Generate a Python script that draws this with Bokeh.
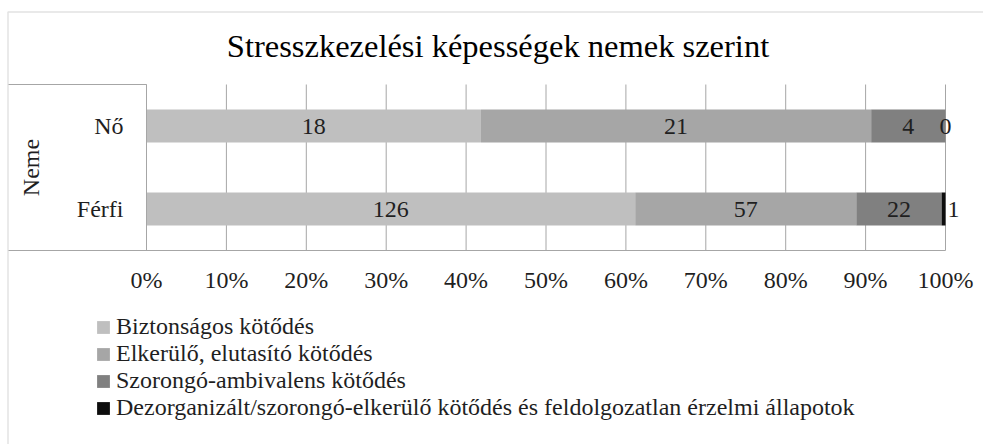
from bokeh.plotting import figure
from bokeh.models import (ColumnDataSource, FixedTicker, Legend, LegendItem, Range1d,
                          BoxAnnotation, LabelSet, Label, LinearAxis)
from bokeh.embed import file_html
from bokeh.resources import INLINE

# ---- data ----
title_text = "Stresszkezelési képességek nemek szerint"
axis_title = "Neme"
categories = ["Férfi", "Nő"]            # bottom to top
series_names = [
    "Biztonságos kötődés",
    "Elkerülő, elutasító kötődés",
    "Szorongó-ambivalens kötődés",
    "Dezorganizált/szorongó-elkerülő kötődés és feldolgozatlan érzelmi állapotok",
]
biztonsagos = [126, 18]
elkerulo = [57, 21]
szorongo = [22, 4]
dezorganizalt = [1, 0]
x_ticks = [0, 10, 20, 30, 40, 50, 60, 70, 80, 90, 100]
x_tick_labels = ["0%", "10%", "20%", "30%", "40%", "50%", "60%", "70%", "80%", "90%", "100%"]

# ---- styles / layout (pixels) ----
colors = ["#BFBFBF", "#A6A6A6", "#808080", "#0D0D0D"]
FONT = "Liberation Serif"
GRID = "#A6A6A6"
TXT = "#1F1F1F"
W, H = 983, 444
PA_L, PA_R, PA_T, PA_B = 146, 945, 84, 250   # plot area in canvas pixels
BOX_L = 8                                      # left edge of the category-label box

series = [biztonsagos, elkerulo, szorongo, dezorganizalt]
ncat = len(categories)
ypos = [i + 0.5 for i in range(ncat)]
totals = [sum(s[i] for s in series) for i in range(ncat)]

xs = (PA_R - PA_L) / 100.0
ys = (PA_B - PA_T) / float(ncat)
x_start, x_end = -PA_L / xs, 100 + (W - PA_R) / xs
y_start, y_end = -(H - PA_B) / ys, ncat + PA_T / ys
x_box = (BOX_L - PA_L) / xs

p = figure(width=W, height=H, x_range=Range1d(x_start, x_end), y_range=Range1d(y_start, y_end),
           output_backend="svg", toolbar_location=None,
           min_border=0, min_border_left=0, min_border_right=0,
           min_border_top=0, min_border_bottom=0)
p.outline_line_color = None
p.background_fill_color = "white"
p.border_fill_color = "white"
p.xgrid.visible = False
p.ygrid.visible = False

# vertical gridlines limited to the plot area
p.segment(x0=x_ticks, x1=x_ticks, y0=[0] * len(x_ticks), y1=[ncat] * len(x_ticks),
          line_color=GRID, line_width=1)

# x axis (drawn at the bottom of the plot area)
xa = p.xaxis[0]
xa.fixed_location = 0
xa.bounds = (x_box, 100)
xa.ticker = FixedTicker(ticks=x_ticks)
xa.major_label_overrides = {t: l for t, l in zip(x_ticks, x_tick_labels)}
xa.major_label_text_font = FONT
xa.major_label_text_font_size = "24px"
xa.major_label_text_color = TXT
xa.axis_line_color = GRID
xa.major_tick_line_color = None
xa.minor_tick_line_color = None
xa.major_tick_out = 0
xa.major_tick_in = 0
xa.major_label_standoff = 16

# top line of the category box
top_ax = LinearAxis(fixed_location=ncat, bounds=(x_box, 0), ticker=FixedTicker(ticks=[]),
                    axis_line_color=GRID, major_tick_line_color=None, minor_tick_line_color=None,
                    major_label_text_font_size="0px")
p.add_layout(top_ax, "above")

# y axis
ya = p.yaxis[0]
ya.fixed_location = 0
ya.bounds = (0, ncat)
ya.ticker = FixedTicker(ticks=ypos)
ya.major_label_overrides = {y: c for y, c in zip(ypos, categories)}
ya.major_label_text_font = FONT
ya.major_label_text_font_size = "24px"
ya.major_label_text_color = TXT
ya.major_tick_line_color = None
ya.minor_tick_line_color = None
ya.major_tick_out = 0
ya.major_tick_in = 0
ya.axis_line_color = GRID
ya.major_label_standoff = 23
ya.axis_label = axis_title
ya.axis_label_text_font = FONT
ya.axis_label_text_font_size = "24px"
ya.axis_label_text_font_style = "normal"
ya.axis_label_text_color = TXT
ya.axis_label_standoff = 30

# bars
renderers = []
left = [0.0] * ncat
for k, (vals, col) in enumerate(zip(series, colors)):
    pct = [v / t * 100 for v, t in zip(vals, totals)]
    right = [l + w for l, w in zip(left, pct)]
    last = k == len(series) - 1
    src = ColumnDataSource(dict(
        y=ypos, left=left, right=right,
        cx=[(l + r) / 2 for l, r in zip(left, right)],
        txt=[str(v) for v in vals],
        xoff=[(10 if (last and v > 0) else 0) for v in vals],
    ))
    r = p.hbar(y="y", left="left", right="right", height=0.4, source=src,
               fill_color=col, line_color=None)
    renderers.append(r)
    labels = LabelSet(x="cx", y="y", text="txt", source=src, x_offset="xoff",
                      text_align="center", text_baseline="middle",
                      text_font=FONT, text_font_size="24px", text_color=TXT)
    p.add_layout(labels)
    left = right

# title
title = Label(x=497.5, y=H - 45, x_units="screen", y_units="screen", text=title_text,
              text_font=FONT, text_font_size="32.5px", text_color="#000000",
              text_align="center", text_baseline="middle")
p.add_layout(title)

# legend
legend = Legend(items=[LegendItem(label=n, renderers=[r]) for n, r in zip(series_names, renderers)],
                location=(95, H - 421))
legend.border_line_color = None
legend.background_fill_alpha = 0
legend.padding = 0
legend.margin = 0
legend.spacing = 0
legend.glyph_width = 16
legend.glyph_height = 16
legend.label_standoff = 5
legend.label_height = 27
legend.label_text_font = FONT
legend.label_text_font_size = "24px"
legend.label_text_color = TXT
p.add_layout(legend)

# outer chart border
border = BoxAnnotation(left=7.5, right=3000, top=11.5, bottom=3000,
                       left_units="canvas", right_units="canvas",
                       top_units="canvas", bottom_units="canvas",
                       fill_alpha=0, line_color="#A0A0A0", line_width=1.5, level="overlay")
p.add_layout(border)

open("out.html", "w").write(file_html(p, INLINE))
